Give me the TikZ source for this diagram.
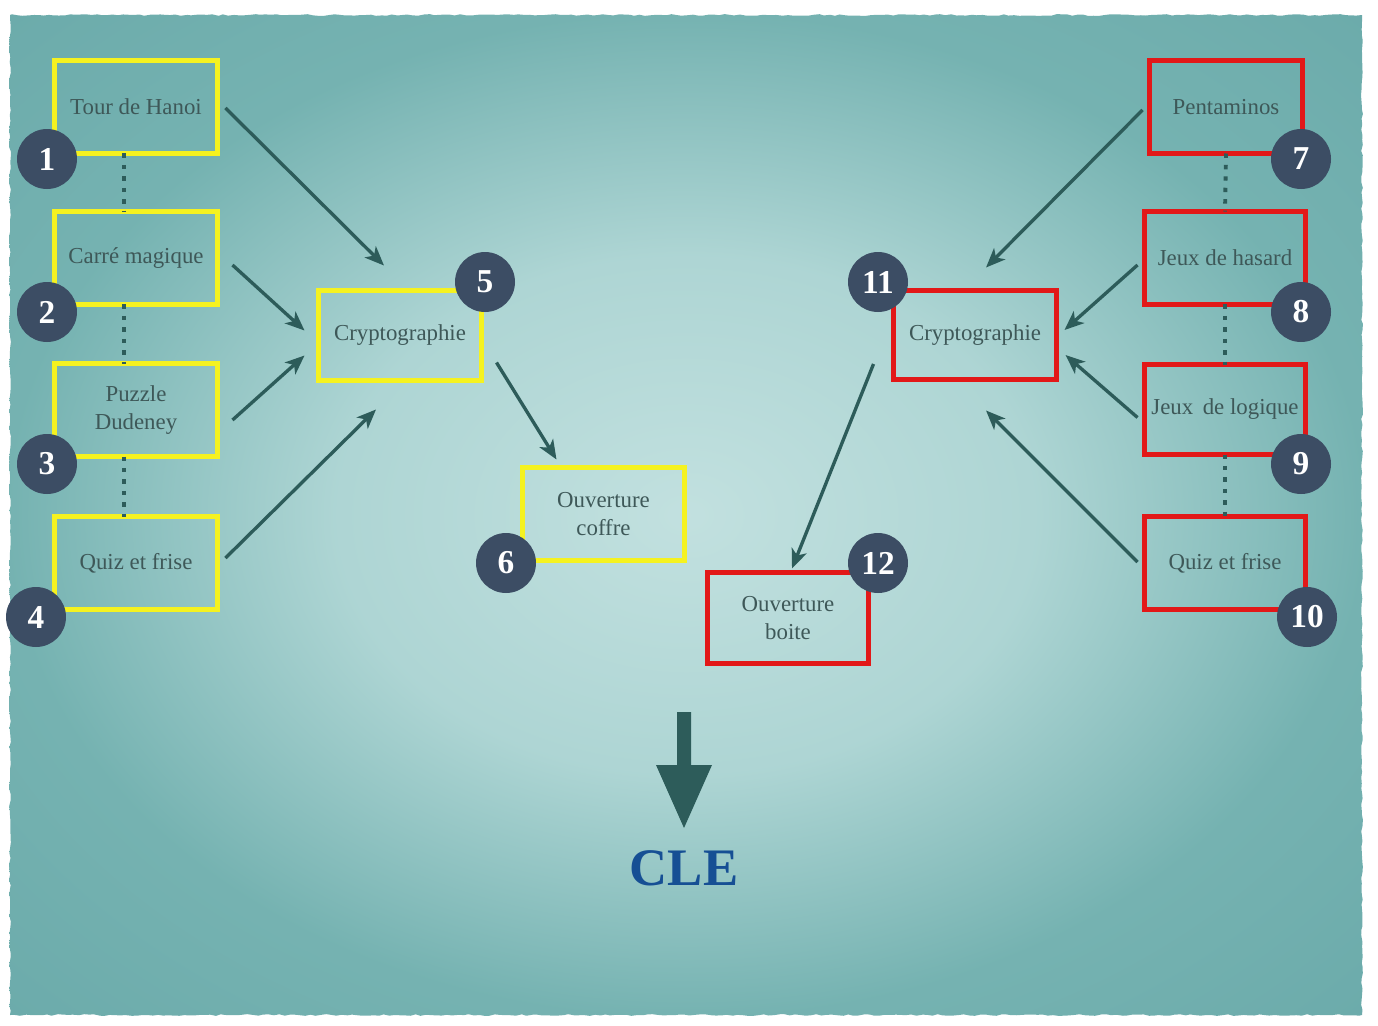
\documentclass[tikz,border=0pt]{standalone}
\usepackage{fontspec}
\setmainfont{Liberation Serif}
\usetikzlibrary{calc,arrows.meta,decorations.pathmorphing}
\definecolor{jaune}{RGB}{245,242,32}
\definecolor{rouge}{RGB}{226,24,24}
\definecolor{pastille}{RGB}{60,77,100}
\definecolor{flechec}{RGB}{45,92,90}
\definecolor{texte}{RGB}{62,88,88}
\definecolor{bleu}{RGB}{22,79,148}
\pgfdeclareradialshading{fond}{\pgfpoint{0bp}{0bp}}{rgb(0bp)=(0.76,0.88,0.875);rgb(13bp)=(0.68,0.835,0.83);rgb(25bp)=(0.46,0.7,0.695);rgb(50bp)=(0.37,0.63,0.635)}
\tikzset{casej/.style={draw=jaune,line width=2.8pt,minimum width=3.26cm,minimum height=1.86cm,outer sep=0pt,align=center,text=texte,font=\fontsize{13}{15.5}\selectfont},
	caser/.style={casej,draw=rouge},
	num/.style={circle,fill=pastille,minimum size=1.2cm,inner sep=0pt,text=white,font=\fontsize{19}{19}\selectfont\bfseries},
	fleche/.style={->,draw=flechec,line width=1.9pt},
	pointille/.style={draw=flechec,line width=2.2pt,dash pattern=on 2.5pt off 4pt}}

\begin{document}
\begin{tikzpicture}[x=0.02cm,y=-0.02cm,>={Stealth[length=11pt,width=9pt,inset=3pt]}]
\useasboundingbox (0,0) rectangle (1378,1025);
\shade[shading=fond,decorate,decoration={random steps,segment length=3pt,amplitude=0.5pt}] (10,15) rectangle (1362,1015);

\node[casej] (hanoi) at (136,107) {Tour de Hanoi};
\node[casej] (carre) at (136,258) {Carré magique};
\node[casej] (dudeney) at (136,410) {Puzzle\\Dudeney};
\node[casej] (quizg) at (136,563) {Quiz et frise};
\node[casej,minimum height=1.8cm] (crypto1) at (400,335.5) {Cryptographie};
\node[casej,minimum width=3.24cm] (coffre) at (603.5,514) {Ouverture\\coffre};

\node[caser,minimum width=3.06cm] (pento) at (1226,107) {Pentaminos};
\node[caser,minimum width=3.22cm] (hasard) at (1225,258) {Jeux de hasard};
\node[caser,minimum width=3.22cm,minimum height=1.8cm] (logique) at (1225,409.5) {Jeux\, de logique};
\node[caser,minimum width=3.22cm] (quizd) at (1225,563) {Quiz et frise};
\node[caser,minimum height=1.78cm] (crypto2) at (975,335) {Cryptographie};
\node[caser,minimum width=3.22cm,minimum height=1.82cm] (boite) at (788,618) {Ouverture\\boite};

\foreach \a/\b in {hanoi/carre,carre/dudeney,dudeney/quizg}
	\draw[pointille] ($(\a.south)+(-12,0)$) -- ($(\b.north)+(-12,0)$);
\foreach \a/\b in {pento/hasard,hasard/logique,logique/quizd}
	\draw[pointille] (\a.south) -- (\b.north);

\node[num] (n1) at (47,159) {1};
\node[num] (n2) at (47,312) {2};
\node[num] (n3) at (47,464) {3};
\node[num] (n4) at (36,617) {4};
\node[num] (n5) at (485,282) {5};
\node[num] (n6) at (506,563) {6};
\node[num] (n7) at (1301,159) {7};
\node[num] (n8) at (1301,312) {8};
\node[num] (n9) at (1301,464) {9};
\node[num] (n10) at (1307,617) {10};
\node[num] (n11) at (878,282) {11};
\node[num] (n12) at (878,563) {12};

\draw[fleche] ($(hanoi.east)+(8,1)$) -- ($(crypto1.north)+(-16,-25)$);
\draw[fleche] ($(carre.east)+(15,7)$) -- ($(crypto1.west)+(-14,-5)$);
\draw[fleche] ($(dudeney.east)+(15,10)$) -- ($(crypto1.west)+(-14,20)$);
\draw[fleche] ($(quizg.east)+(8,-5)$) -- ($(crypto1.south)+(-24,29)$);
\draw[fleche] ($(crypto1.east)+(15,27)$) -- ($(coffre.north)+(-47,-8)$);

\draw[fleche] ($(pento.west)+(-7,3)$) -- ($(crypto2.north)+(11,-23)$);
\draw[fleche] ($(hasard.west)+(-7,7)$) -- ($(crypto2.east)+(8,-5)$);
\draw[fleche] ($(logique.west)+(-7,8)$) -- ($(crypto2.east)+(9,20)$);
\draw[fleche] ($(quizd.west)+(-7,-1)$) -- ($(crypto2.south)+(11,31)$);
\draw[fleche] ($(crypto2.west)+(-20,29)$) -- ($(boite.north)+(4,-4)$);

\node[text=bleu,font=\fontsize{30}{30}\selectfont\bfseries] (cle) at (684,868) {CLE};
\fill[flechec] (677,712) -- (691,712) -- (691,765) -- (712,765) -- (684,828) -- (656,765) -- (677,765) -- cycle;
\end{tikzpicture}
\end{document}
